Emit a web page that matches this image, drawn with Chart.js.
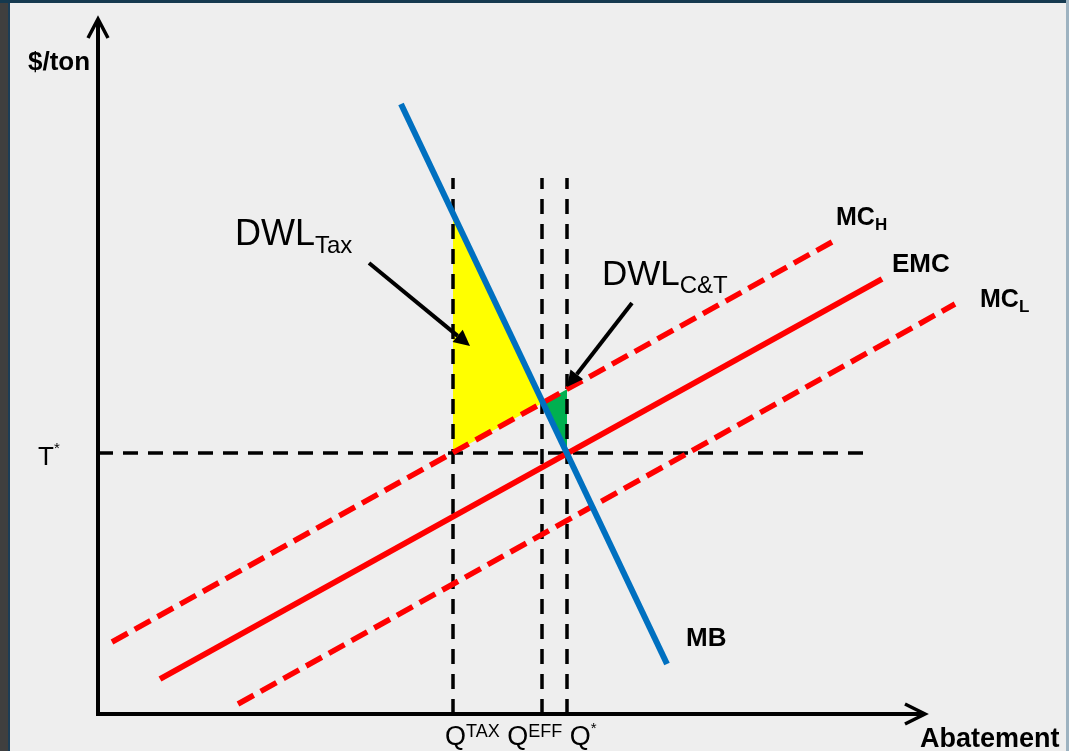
<!DOCTYPE html>
<html lang="en">
<head>
  <meta charset="UTF-8" />
  <title>Tax vs Cap-and-Trade DWL</title>
  <script src="https://cdn.jsdelivr.net/npm/chart.js"></script>
  <style>
    body {
      margin: 0;
      padding: 0;
      background: #eeeeee;
      overflow: hidden;
    }
    .frame {
      position: relative;
      width: 1069px;
      height: 751px;
      background: #eeeeee;
    }
    .strip { position: absolute; }
    canvas { position: absolute; left: 0; top: 0; }
  </style>
</head>
<body>
  <div class="frame">
    <div class="strip" style="left:0;top:0;width:8px;height:751px;background:#3f3f3f;"></div>
    <div class="strip" style="left:8px;top:0;width:2px;height:751px;background:#1b3d56;"></div>
    <div class="strip" style="left:0;top:0;width:1069px;height:3px;background:#15394f;"></div>
    <div class="strip" style="left:1066px;top:0;width:3px;height:751px;background:#9db2c0;"></div>
    <canvas id="dwlChart" width="1069" height="751"></canvas>
  </div>

  <script>
    // quantities of abatement (Q^TAX, Q^EFF, Q*) and the tax level T*
    const qNames = ['TAX', 'EFF', '*'];
    const qValues = [35.5, 44.4, 46.9];
    const taxPrice = 26.1;

    // curve end points (abatement, $/ton)
    const mbX = [30.3, 56.9];
    const mbY = [61.0, 5.0];
    const emcX = [6.2, 78.4];
    const emcY = [3.5, 43.5];
    const mcHX = [1.4, 73.4];
    const mcHY = [7.2, 47.2];
    const mcLX = [14.0, 85.7];
    const mcLY = [1.0, 41.0];

    // extent of the guide lines and the axes
    const guideTop = 53.6;
    const guideRight = 77.2;
    const axisXEnd = 82.7;
    const axisYEnd = 69.5;

    function pts(xs, ys) {
      return xs.map((x, i) => ({ x: x, y: ys[i] }));
    }
    function lineAt(xs, ys, x) {
      return ys[0] + (ys[1] - ys[0]) * (x - xs[0]) / (xs[1] - xs[0]);
    }
    function crossing(ax, ay, bx, by) {
      const sa = (ay[1] - ay[0]) / (ax[1] - ax[0]);
      const sb = (by[1] - by[0]) / (bx[1] - bx[0]);
      const x = (by[0] - sb * bx[0] - ay[0] + sa * ax[0]) / (sa - sb);
      return { x: x, y: lineAt(ax, ay, x) };
    }

    const qTax = qValues[0], qStar = qValues[2];
    const eff = crossing(mbX, mbY, mcHX, mcHY);

    const taxArea = [
      { x: qTax, y: taxPrice },
      { x: qTax, y: lineAt(mbX, mbY, qTax) },
      eff,
      { x: qTax, y: taxPrice }
    ];
    const ctArea = [
      eff,
      { x: qStar, y: lineAt(mcHX, mcHY, qStar) },
      { x: qStar, y: taxPrice },
      eff
    ];

    const guideDash = [15, 10];
    const redDash = [18, 8];

    const datasets = [
      { data: taxArea, backgroundColor: '#ffff00', borderWidth: 0, fill: 'shape', order: 20 },
      { data: ctArea, backgroundColor: '#00b050', borderWidth: 0, fill: 'shape', order: 19 },
      { data: [{ x: 0, y: taxPrice }, { x: guideRight, y: taxPrice }],
        borderColor: '#000', borderWidth: 3.5, borderDash: guideDash, order: 10 }
    ];
    qValues.forEach(q => {
      datasets.push({ data: [{ x: q, y: 0 }, { x: q, y: guideTop }],
        borderColor: '#000', borderWidth: 3.5, borderDash: guideDash, order: 10 });
    });
    datasets.push(
      { data: pts(mcHX, mcHY), borderColor: '#ff0000', borderWidth: 5.5, borderDash: redDash, order: 4 },
      { data: pts(mcLX, mcLY), borderColor: '#ff0000', borderWidth: 5.5, borderDash: redDash, order: 4 },
      { data: pts(emcX, emcY), borderColor: '#ff0000', borderWidth: 6, order: 3 },
      { data: pts(mbX, mbY), borderColor: '#0070c0', borderWidth: 6, order: 1 }
    );
    datasets.forEach(d => {
      d.showLine = true;
      d.pointRadius = 0;
      d.borderCapStyle = 'butt';
      d.clip = false;
    });

    // text pieces: [text, font, baseline shift]
    const FONT = '"Liberation Sans", Arial, sans-serif';
    const labels = [
      { x: -7.0, y: 64.4, parts: [['$/ton', 'bold 26px', 0]] },
      { x: 82.2, y: -3.3, parts: [['Abatement', 'bold 27px', 0]] },
      { x: -6.0, y: 24.9, parts: [['T', '26px', 0], ['*', '15px', -12]] },
      { x: 34.7, y: -3.1, parts: [
        ['Q', '27px', 0], [qNames[0], '18px', -8], [' Q', '27px', 0], [qNames[1], '18px', -8],
        [' Q', '27px', 0], [qNames[2], '15px', -12]] },
      { x: 73.8, y: 48.9, parts: [['MC', 'bold 25px', 0], ['H', 'bold 17px', 5]] },
      { x: 79.4, y: 44.2, parts: [['EMC', 'bold 26px', 0]] },
      { x: 88.2, y: 40.7, parts: [['MC', 'bold 25px', 0], ['L', 'bold 17px', 5]] },
      { x: 58.8, y: 6.8, parts: [['MB', 'bold 26px', 0]] },
      { x: 13.7, y: 46.9, parts: [['DWL', '36px', 0], ['Tax', '24px', 8]] },
      { x: 50.4, y: 42.9, parts: [['DWL', '35px', 0], ['C&T', '24px', 8]] }
    ];

    // pointer arrows: from -> tip
    const pointers = [
      { from: [27.1, 45.1], to: [37.2, 36.8] },
      { from: [53.4, 41.1], to: [46.9, 32.7] }
    ];

    const overlay = {
      id: 'overlay',
      afterDatasetsDraw(chart) {
        const ctx = chart.ctx;
        const sx = chart.scales.x, sy = chart.scales.y;
        const px = v => sx.getPixelForValue(v);
        const py = v => sy.getPixelForValue(v);
        ctx.save();

        // axes with open arrow heads
        ctx.strokeStyle = '#000';
        ctx.lineWidth = 4;
        ctx.lineJoin = 'miter';
        ctx.beginPath();
        ctx.moveTo(px(0), py(axisYEnd));
        ctx.lineTo(px(0), py(0));
        ctx.lineTo(px(axisXEnd), py(0));
        ctx.stroke();
        ctx.lineWidth = 3.5;
        ctx.beginPath();
        ctx.moveTo(px(0) - 10, py(axisYEnd) + 19);
        ctx.lineTo(px(0), py(axisYEnd));
        ctx.lineTo(px(0) + 10, py(axisYEnd) + 19);
        ctx.moveTo(px(axisXEnd) - 20, py(0) - 10);
        ctx.lineTo(px(axisXEnd), py(0));
        ctx.lineTo(px(axisXEnd) - 20, py(0) + 10);
        ctx.stroke();

        // pointer arrows
        pointers.forEach(p => {
          const x0 = px(p.from[0]), y0 = py(p.from[1]);
          const x1 = px(p.to[0]), y1 = py(p.to[1]);
          const a = Math.atan2(y1 - y0, x1 - x0);
          const hl = 16, hw = 8;
          const bx = x1 - hl * Math.cos(a), by = y1 - hl * Math.sin(a);
          ctx.lineWidth = 4;
          ctx.beginPath();
          ctx.moveTo(x0, y0);
          ctx.lineTo(bx, by);
          ctx.stroke();
          ctx.fillStyle = '#000';
          ctx.beginPath();
          ctx.moveTo(x1, y1);
          ctx.lineTo(bx + hw * Math.sin(a), by - hw * Math.cos(a));
          ctx.lineTo(bx - hw * Math.sin(a), by + hw * Math.cos(a));
          ctx.closePath();
          ctx.fill();
        });

        // labels
        ctx.fillStyle = '#000';
        ctx.textBaseline = 'alphabetic';
        ctx.textAlign = 'left';
        labels.forEach(l => {
          let x = px(l.x);
          const y = py(l.y);
          l.parts.forEach(([t, f, dy]) => {
            ctx.font = f + ' ' + FONT;
            ctx.fillText(t, x, y + dy);
            x += ctx.measureText(t).width;
          });
        });
        ctx.restore();
      }
    };

    new Chart(document.getElementById('dwlChart'), {
      type: 'scatter',
      data: { datasets: datasets },
      options: {
        responsive: false,
        animation: false,
        layout: { padding: { left: 98, right: 0, top: 0, bottom: 37 } },
        plugins: { legend: { display: false }, tooltip: { enabled: false } },
        scales: {
          x: { type: 'linear', display: false, min: 0, max: 97.1 },
          y: { type: 'linear', display: false, min: 0, max: 71.4 }
        }
      },
      plugins: [overlay]
    });
  </script>
</body>
</html>
